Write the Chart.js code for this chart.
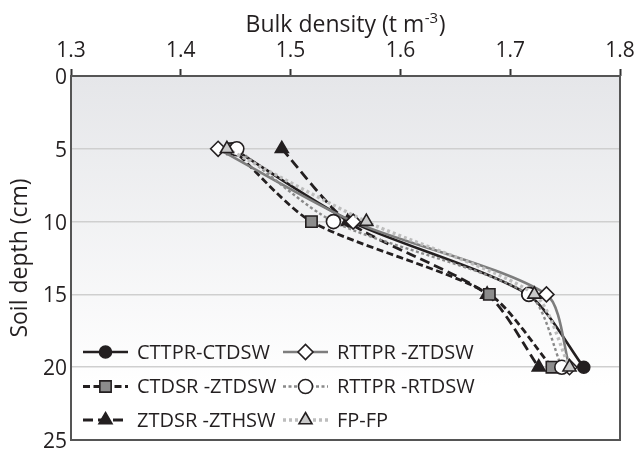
<!DOCTYPE html>
<html>
<head>
<meta charset="utf-8">
<script src="https://cdn.jsdelivr.net/npm/chart.js@4.4.1/dist/chart.umd.min.js"></script>
<style>
  html, body { margin: 0; padding: 0; background: #ffffff; overflow: hidden; }
  canvas { display: block; }
</style>
</head>
<body>
<canvas id="profile" width="638" height="450"></canvas>
<script>
// Soil depth (cm) at which bulk density was sampled
const depths = [5, 10, 15, 20];

// Bulk density (t m-3) per tillage / establishment system
const cttprCtdsw = [1.448, 1.555, 1.716, 1.767];
const rttprZtdsw = [1.434, 1.557, 1.733, 1.754];
const ctdsrZtdsw = [1.447, 1.519, 1.681, 1.738];
const rttprRtdsw = [1.451, 1.539, 1.717, 1.747];
const ztdsrZthsw = [1.492, 1.552, 1.679, 1.726];
const fpFp       = [1.442, 1.569, 1.722, 1.754];

const seriesNames = ['CTTPR-CTDSW', 'RTTPR -ZTDSW', 'CTDSR -ZTDSW', 'RTTPR -RTDSW', 'ZTDSR -ZTHSW', 'FP-FP'];

// Axis tick values
const densityTicks = [1.3, 1.4, 1.5, 1.6, 1.7, 1.8];
const depthTicks = [0, 5, 10, 15, 20, 25];

const INK = '#231f20';
const FONT = '"Open Sans", "Noto Sans", sans-serif';

const points = (vals) => vals.map((v, i) => ({ x: v, y: depths[i] }));

const seriesStyles = [
  { line: INK,       width: 2.6, dash: [],       style: 'circle',   fill: INK,       r: 6,   order: 5 },
  { line: '#7d7d7d', width: 2.6, dash: [],       style: 'rectRot',  fill: '#ffffff', r: 7.5, order: 2 },
  { line: INK,       width: 2.8, dash: [7, 3.5], style: 'rect',     fill: '#8c8c8c', r: 8,   order: 3 },
  { line: '#8a8a8a', width: 2.4, dash: [3, 2.5], style: 'circle',   fill: '#ffffff', r: 7,   order: 1 },
  { line: INK,       width: 2.8, dash: [10, 5],  style: 'triangle', fill: INK,       r: 7.5, order: 4 },
  { line: '#bdbdbd', width: 3.4, dash: [3, 3],   style: 'triangle', fill: '#c9c9c9', r: 7.5, order: 0 }
];

const seriesValues = [cttprCtdsw, rttprZtdsw, ctdsrZtdsw, rttprRtdsw, ztdsrZthsw, fpFp];

const datasets = seriesValues.map((vals, i) => {
  const s = seriesStyles[i];
  return {
    label: seriesNames[i],
    data: points(vals),
    borderColor: s.line,
    borderWidth: s.width,
    borderDash: s.dash,
    tension: 0.25,
    fill: false,
    pointStyle: s.style,
    pointRadius: s.r,
    pointBackgroundColor: s.fill,
    pointBorderColor: INK,
    pointBorderWidth: 1.6,
    order: s.order
  };
});

// Shaded plot background and full frame around the plotting area
const plotFrame = {
  id: 'plotFrame',
  beforeDraw(chart) {
    const { ctx, chartArea: a } = chart;
    const g = ctx.createLinearGradient(0, a.top, 0, a.bottom);
    g.addColorStop(0, '#e5e6e9');
    g.addColorStop(0.85, '#ffffff');
    ctx.save();
    ctx.fillStyle = g;
    ctx.fillRect(a.left, a.top, a.right - a.left, a.bottom - a.top);
    ctx.restore();
  },
  beforeDatasetsDraw(chart) {
    const { ctx, chartArea: a } = chart;
    ctx.save();
    ctx.strokeStyle = '#555555';
    ctx.lineWidth = 2;
    ctx.strokeRect(a.left, a.top, a.right - a.left, a.bottom - a.top);
    ctx.restore();
  }
};

// Top axis title with superscript unit
const densityTitle = {
  id: 'densityTitle',
  afterDraw(chart) {
    const { ctx, chartArea: a } = chart;
    const main = 'Bulk density (t m';
    const sup = '-3';
    const tail = ')';
    ctx.save();
    ctx.fillStyle = INK;
    ctx.textBaseline = 'alphabetic';
    ctx.font = '23px ' + FONT;
    const wMain = ctx.measureText(main).width;
    const wTail = ctx.measureText(tail).width;
    ctx.font = '15px ' + FONT;
    const wSup = ctx.measureText(sup).width;
    const total = wMain + wSup + 1 + wTail;
    let x = (a.left + a.right) / 2 - total / 2;
    const base = 32;
    ctx.font = '23px ' + FONT;
    ctx.fillText(main, x, base);
    x += wMain;
    ctx.font = '15px ' + FONT;
    ctx.fillText(sup, x + 0.5, base - 9);
    x += wSup + 1;
    ctx.font = '23px ' + FONT;
    ctx.fillText(tail, x, base);
    ctx.restore();
  }
};

function marker(ctx, style, r, x, y) {
  if (Chart.helpers && Chart.helpers.drawPoint) {
    Chart.helpers.drawPoint(ctx, { pointStyle: style, radius: r, rotation: 0, borderWidth: ctx.lineWidth }, x, y);
    return;
  }
  ctx.beginPath();
  if (style === 'circle') {
    ctx.arc(x, y, r, 0, Math.PI * 2);
  } else if (style === 'rect') {
    const s = Math.SQRT1_2 * r;
    ctx.rect(x - s, y - s, 2 * s, 2 * s);
  } else if (style === 'rectRot') {
    ctx.moveTo(x - r, y); ctx.lineTo(x, y - r); ctx.lineTo(x + r, y); ctx.lineTo(x, y + r);
  } else {
    ctx.moveTo(x, y - r);
    ctx.lineTo(x + 0.866 * r, y + r / 2);
    ctx.lineTo(x - 0.866 * r, y + r / 2);
  }
  ctx.closePath();
  ctx.fill();
  ctx.stroke();
}

// Two-column key inside the lower-left of the plot
const keyBox = {
  id: 'keyBox',
  afterDatasetsDraw(chart) {
    const { ctx } = chart;
    const cols = [83, 283];
    const rows = [352, 386.5, 420];
    const sample = 45;
    chart.data.datasets.forEach((ds, i) => {
      const col = i % 2;
      const row = Math.floor(i / 2);
      const x0 = cols[col];
      const y = rows[row];
      ctx.save();
      ctx.strokeStyle = ds.borderColor;
      ctx.lineWidth = ds.borderWidth;
      ctx.setLineDash(ds.borderDash);
      ctx.beginPath();
      ctx.moveTo(x0, y);
      ctx.lineTo(x0 + sample, y);
      ctx.stroke();
      ctx.setLineDash([]);
      ctx.fillStyle = ds.pointBackgroundColor;
      ctx.strokeStyle = ds.pointBorderColor;
      ctx.lineWidth = ds.pointBorderWidth;
      marker(ctx, ds.pointStyle, ds.pointRadius, x0 + sample / 2, y);
      ctx.fillStyle = INK;
      ctx.font = '20px ' + FONT;
      ctx.textBaseline = 'middle';
      ctx.textAlign = 'left';
      ctx.fillText(ds.label, x0 + sample + 9, y + 1);
      ctx.restore();
    });
  }
};

const zeroPad = (scale) => {
  scale.paddingLeft = 0; scale.paddingRight = 0;
  scale.paddingTop = 0; scale.paddingBottom = 0;
};

new Chart(document.getElementById('profile'), {
  type: 'line',
  data: { datasets },
  options: {
    responsive: false,
    animation: false,
    devicePixelRatio: 1,
    layout: { padding: { left: 0, top: 0, right: 18, bottom: 10 } },
    plugins: {
      legend: { display: false },
      tooltip: { enabled: false }
    },
    scales: {
      x: {
        type: 'linear',
        position: 'top',
        min: densityTicks[0],
        max: densityTicks[densityTicks.length - 1],
        afterBuildTicks: (scale) => { scale.ticks = densityTicks.map(v => ({ value: v })); },
        ticks: {
          color: INK,
          font: { family: FONT, size: 21 },
          padding: 5,
          maxRotation: 0,
          callback: (v) => Number(v).toFixed(1)
        },
        grid: {
          drawOnChartArea: false,
          drawTicks: true,
          tickLength: 7,
          tickColor: '#333333',
          tickWidth: 2
        },
        border: { display: false },
        title: { display: false },
        afterFit: (scale) => { scale.height = 76; zeroPad(scale); }
      },
      y: {
        type: 'linear',
        reverse: true,
        min: depthTicks[0],
        max: depthTicks[depthTicks.length - 1],
        afterBuildTicks: (scale) => { scale.ticks = depthTicks.map(v => ({ value: v })); },
        ticks: {
          color: INK,
          font: { family: FONT, size: 21 },
          padding: 4,
          labelOffset: 2
        },
        grid: {
          drawTicks: false,
          lineWidth: 1.5,
          color: (c) => (c.tick && (c.tick.value === 0 || c.tick.value === 25)) ? 'rgba(0,0,0,0)' : '#cfcfcf'
        },
        border: { display: false },
        title: {
          display: true,
          text: 'Soil depth (cm)',
          color: INK,
          font: { family: FONT, size: 23 },
          padding: { top: 7, bottom: 0 }
        },
        afterFit: (scale) => { scale.width = 71; zeroPad(scale); }
      }
    }
  },
  plugins: [plotFrame, densityTitle, keyBox]
});
</script>
</body>
</html>
